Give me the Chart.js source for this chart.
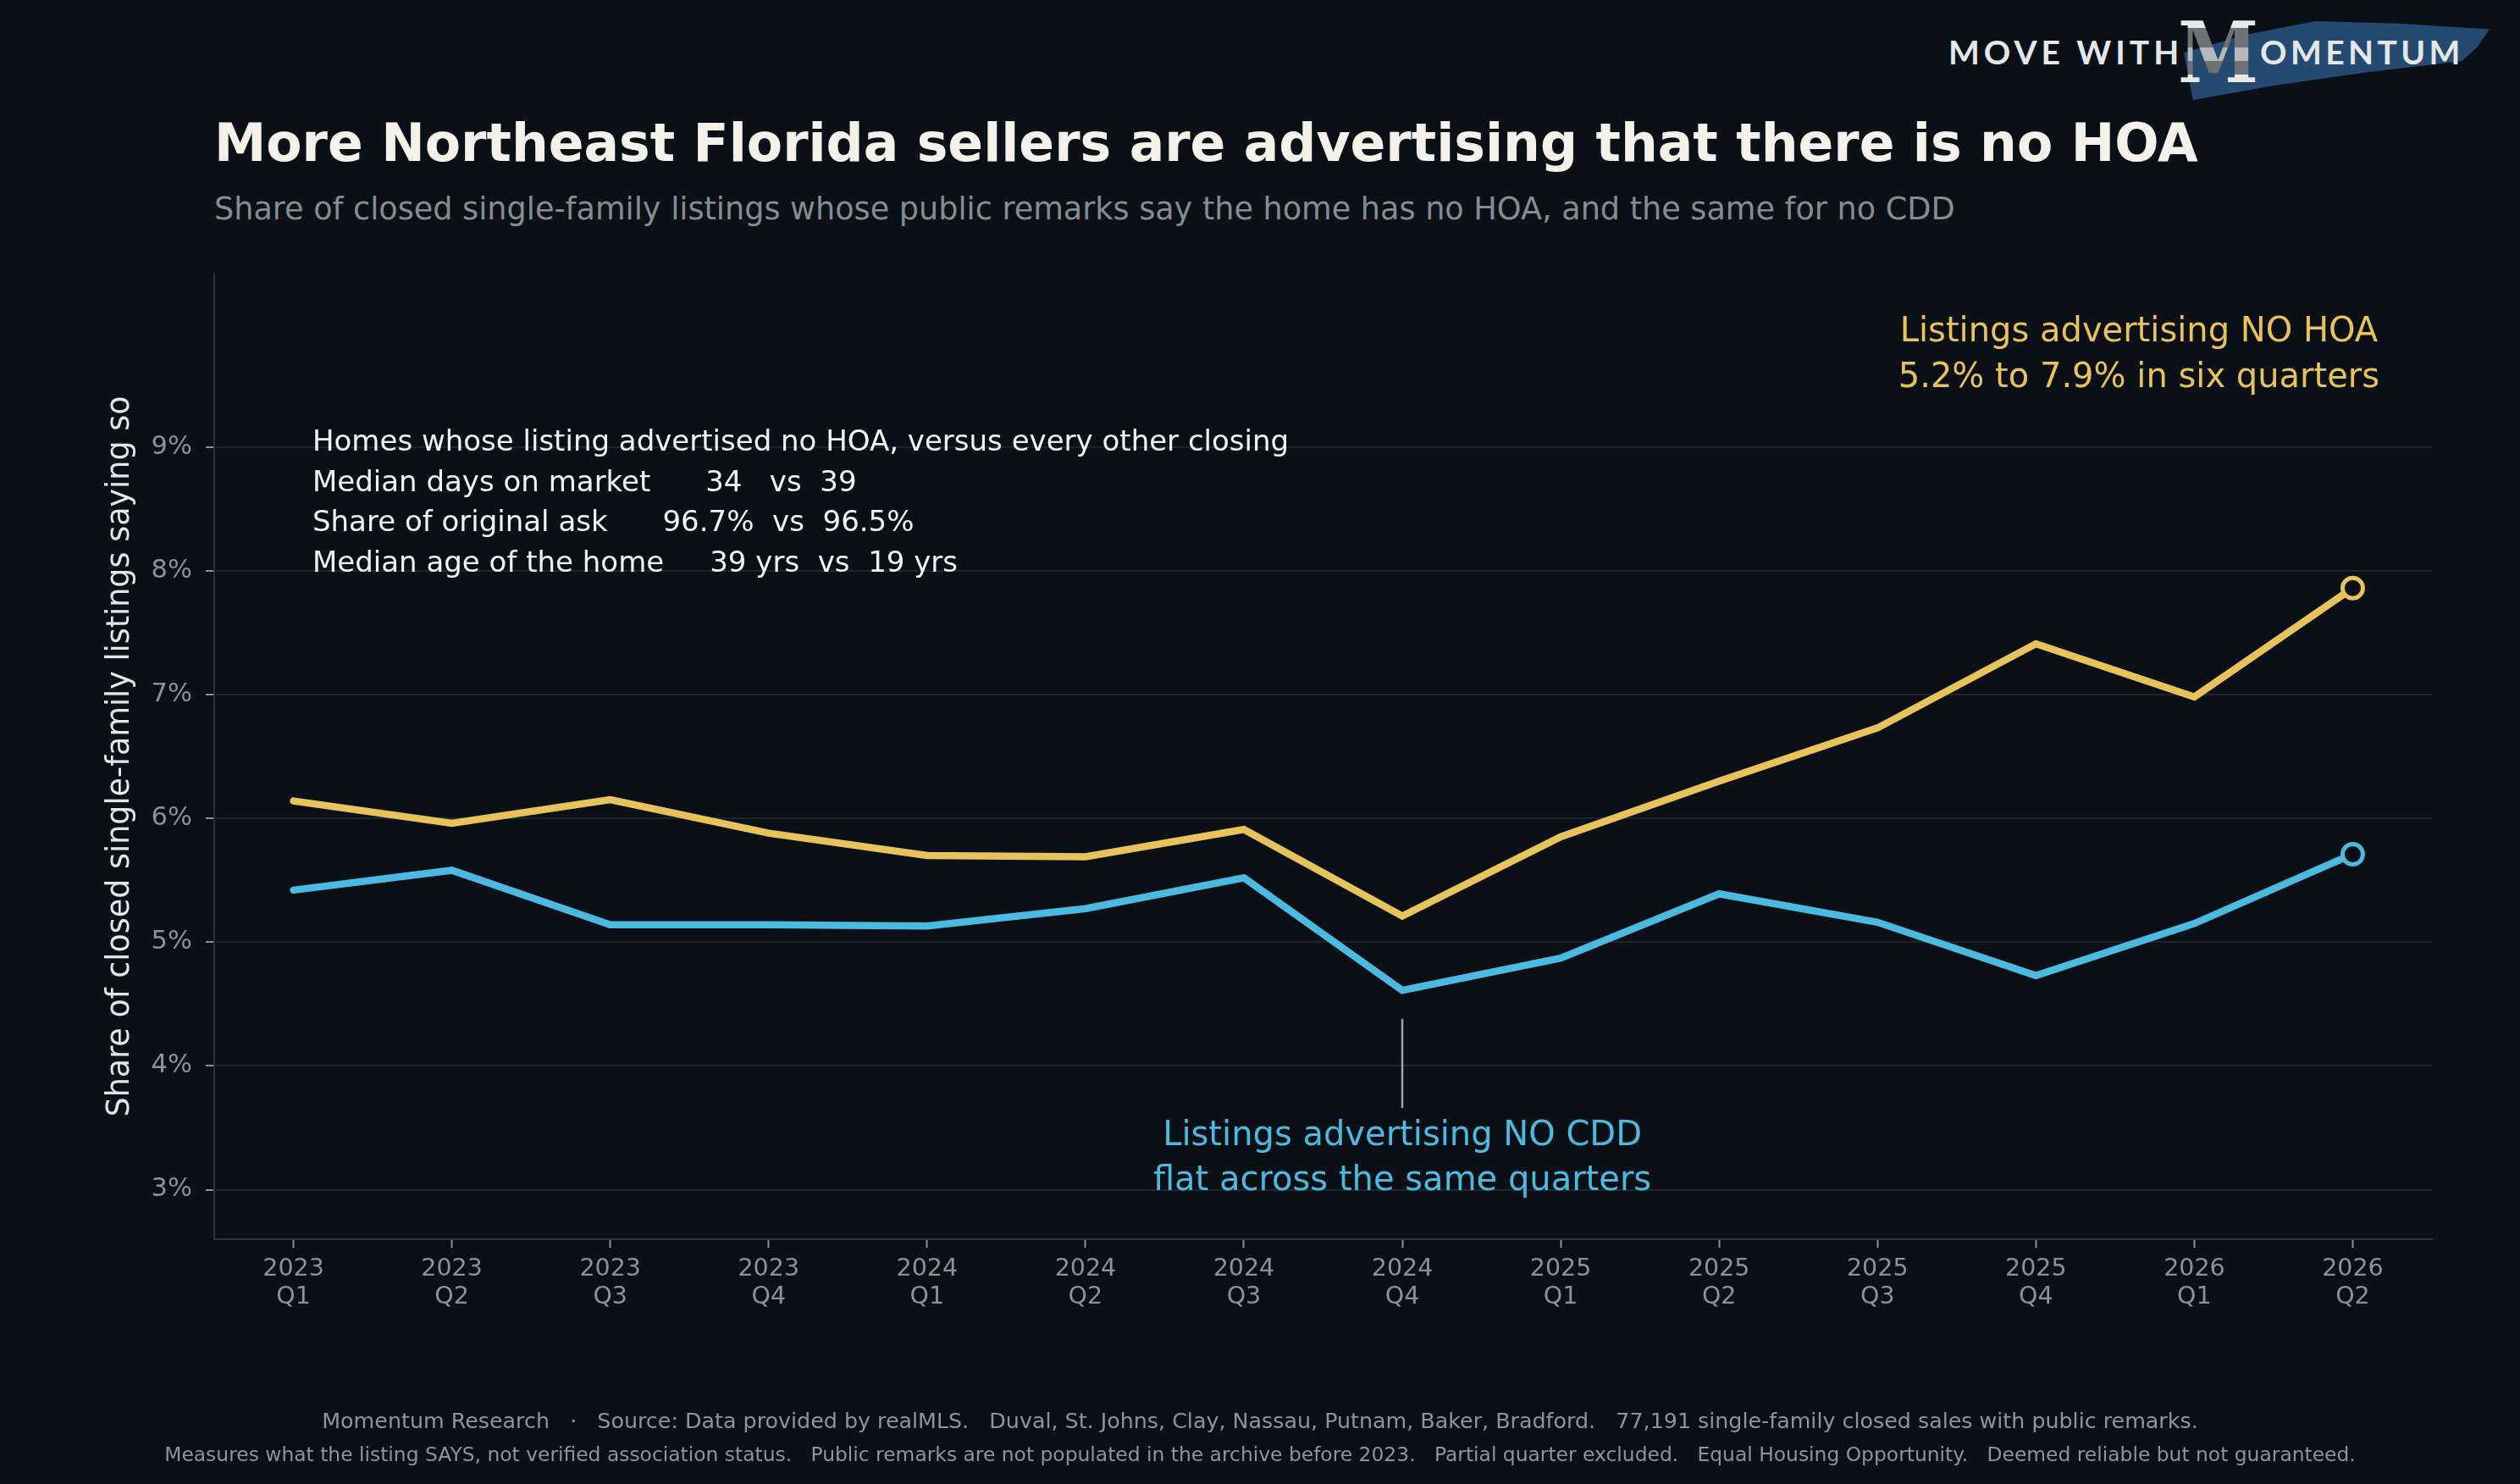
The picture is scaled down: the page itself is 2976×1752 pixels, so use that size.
<!DOCTYPE html>
<html>
<head>
<meta charset="utf-8">
<title>No HOA listings</title>
<script src="https://cdn.jsdelivr.net/npm/chart.js@4.4.1/dist/chart.umd.min.js"></script>
<style>
  html, body { margin: 0; padding: 0; background: #0a1016; }
  body { width: 2976px; height: 1752px; position: relative; overflow: hidden; font-family: "DejaVu Sans", sans-serif; }
  #chart { position: absolute; left: 0; top: 0; }
  .txt { position: absolute; white-space: pre; line-height: 1; }
  #title { left: 253px; top: 139px; font-size: 61.6px; font-weight: bold; color: #f4f1ea; }
  #subtitle { left: 253px; top: 229px; font-size: 36.6px; color: #858c93; }
  .foot { left: 0; width: 2976px; text-align: center; color: #8d949b; }
  #foot1 { top: 1665px; font-size: 25.35px; }
  #foot2 { top: 1706px; font-size: 23.4px; }
  #brush { position: absolute; left: 2579px; top: 22px; width: 361px; height: 96px; background: #244a72;
    clip-path: polygon(0 42%, 20% 20%, 43% 3%, 70% 6%, 100% 13%, 96% 35%, 91% 52%, 60% 66%, 30% 82%, 3% 100%); }
  .logo { position: absolute; font-family: Lato, "DejaVu Sans", sans-serif; font-weight: bold; font-size: 39px;
    letter-spacing: 5px; color: #e4e6e8; line-height: 1; top: 42px; }
  #lg1 { left: 2301px; }
  #lg2 { left: 2669px; letter-spacing: 4.4px; }
  #lgM { position: absolute; left: 2572px; top: 12px; font-family: "DejaVu Serif", serif; font-weight: bold;
    font-size: 100px; line-height: 1; transform: scaleX(0.86); transform-origin: left top;
    background: linear-gradient(to bottom, #e8e8e8 0 21%, #6f7275 21% 44%, #b5b7b9 44% 60%, #6f7275 60% 76%, #e8e8e8 76% 100%);
    -webkit-background-clip: text; background-clip: text; color: transparent; }
</style>
</head>
<body>
<div id="brush"></div>
<span class="logo" id="lg1">MOVE WITH</span>
<span id="lgM">M</span>
<span class="logo" id="lg2">OMENTUM</span>

<div class="txt" id="title">More Northeast Florida sellers are advertising that there is no HOA</div>
<div class="txt" id="subtitle">Share of closed single-family listings whose public remarks say the home has no HOA, and the same for no CDD</div>

<canvas id="chart" width="2976" height="1752"></canvas>

<div class="txt foot" id="foot1">Momentum Research   ·   Source: Data provided by realMLS.   Duval, St. Johns, Clay, Nassau, Putnam, Baker, Bradford.   77,191 single-family closed sales with public remarks.</div>
<div class="txt foot" id="foot2">Measures what the listing SAYS, not verified association status.   Public remarks are not populated in the archive before 2023.   Partial quarter excluded.   Equal Housing Opportunity.   Deemed reliable but not guaranteed.</div>

<script>
// quarters on the x axis
const years = ['2023', '2023', '2023', '2023', '2024', '2024', '2024', '2024', '2025', '2025', '2025', '2025', '2026', '2026'];
const quarters = ['Q1', 'Q2', 'Q3', 'Q4', 'Q1', 'Q2', 'Q3', 'Q4', 'Q1', 'Q2', 'Q3', 'Q4', 'Q1', 'Q2'];

// share of closings (%) whose remarks say so
const noHoa = [6.14, 5.96, 6.15, 5.88, 5.70, 5.69, 5.91, 5.21, 5.85, 6.30, 6.73, 7.41, 6.98, 7.86];
const noCdd = [5.42, 5.58, 5.14, 5.14, 5.13, 5.27, 5.52, 4.61, 4.87, 5.39, 5.16, 4.73, 5.15, 5.71];

const yTicks = [3, 4, 5, 6, 7, 8, 9];

const statLines = [
  'Homes whose listing advertised no HOA, versus every other closing',
  'Median days on market      34   vs  39',
  'Share of original ask      96.7%  vs  96.5%',
  'Median age of the home     39 yrs  vs  19 yrs'
];
const hoaNote = ['Listings advertising NO HOA', '5.2% to 7.9% in six quarters'];
const cddNote = ['Listings advertising NO CDD', 'flat across the same quarters'];

const BG = '#0a1016';
const GOLD = '#e8c35b';
const BLUE = '#4bbae0';
const TICK = '#8a929a';
const GRID = '#1c262f';
const AXIS = '#28323b';

const labels = years.map((yr, i) => [yr, quarters[i]]);
const lastOnly = (arr, r) => arr.map((_, i) => (i === arr.length - 1 ? r : 0));

// text notes drawn inside the plot, anchored to the scales
const notesPlugin = {
  id: 'notes',
  afterDatasetsDraw(chart) {
    const { ctx, scales: { x, y } } = chart;
    ctx.save();

    // stats block
    ctx.font = '34px "DejaVu Sans"';
    ctx.fillStyle = '#f2f2f2';
    ctx.textAlign = 'left';
    ctx.textBaseline = 'alphabetic';
    const sx = x.getPixelForValue(0.12);
    const sy = [8.97, 8.645, 8.32, 7.995];
    statLines.forEach((t, i) => ctx.fillText(t, sx, y.getPixelForValue(sy[i])));

    // NO HOA note
    ctx.font = '40px "DejaVu Sans"';
    ctx.textAlign = 'center';
    ctx.fillStyle = GOLD;
    const hx = x.getPixelForValue(11.65);
    ctx.fillText(hoaNote[0], hx, y.getPixelForValue(9.85));
    ctx.fillText(hoaNote[1], hx, y.getPixelForValue(9.48));

    // NO CDD note with connector
    const cx = x.getPixelForValue(7);
    ctx.strokeStyle = '#a0a4a8';
    ctx.lineWidth = 2.5;
    ctx.beginPath();
    ctx.moveTo(cx, y.getPixelForValue(4.38));
    ctx.lineTo(cx, y.getPixelForValue(3.66));
    ctx.stroke();
    ctx.fillStyle = BLUE;
    ctx.fillText(cddNote[0], cx, y.getPixelForValue(3.36));
    ctx.fillText(cddNote[1], cx, y.getPixelForValue(3.0));

    ctx.restore();
  }
};

new Chart(document.getElementById('chart'), {
  type: 'line',
  data: {
    labels: labels,
    datasets: [
      {
        label: 'No HOA',
        data: noHoa,
        borderColor: GOLD,
        borderWidth: 8.5,
        borderCapStyle: 'round',
        pointRadius: lastOnly(noHoa, 12),
        pointBorderWidth: 5,
        pointBorderColor: GOLD,
        pointBackgroundColor: BG,
        tension: 0,
        clip: false
      },
      {
        label: 'No CDD',
        data: noCdd,
        borderColor: BLUE,
        borderWidth: 8.5,
        borderCapStyle: 'round',
        pointRadius: lastOnly(noCdd, 12),
        pointBorderWidth: 5,
        pointBorderColor: BLUE,
        pointBackgroundColor: BG,
        tension: 0,
        clip: false
      }
    ]
  },
  options: {
    responsive: false,
    animation: false,
    devicePixelRatio: 1,
    layout: { padding: { left: 0, right: 104, top: 323, bottom: 169 } },
    plugins: { legend: { display: false }, tooltip: { enabled: false } },
    scales: {
      x: {
        offset: true,
        afterFit: (s) => { s.height = 120; },
        grid: { drawOnChartArea: false, drawTicks: true, tickLength: 10, tickColor: TICK, tickWidth: 2 },
        border: { color: AXIS, width: 2 },
        ticks: {
          color: TICK,
          padding: 9,
          maxRotation: 0,
          autoSkip: false,
          font: { family: 'DejaVu Sans', size: 28.5, lineHeight: 1.17 }
        }
      },
      y: {
        min: 2.6,
        max: 10.4,
        afterFit: (s) => { s.width = 253; },
        afterBuildTicks: (s) => { s.ticks = yTicks.map(v => ({ value: v })); },
        grid: { color: GRID, lineWidth: 2, tickLength: 10, tickColor: TICK, tickWidth: 2 },
        border: { color: AXIS, width: 2 },
        ticks: {
          color: TICK,
          padding: 16,
          font: { family: 'DejaVu Sans', size: 30.5 },
          callback: (v) => v + '%'
        },
        title: {
          display: true,
          text: 'Share of closed single-family listings saying so',
          color: '#e5e5e5',
          padding: { top: 121, bottom: 0 },
          font: { family: 'DejaVu Sans', size: 36.5 }
        }
      }
    }
  },
  plugins: [notesPlugin]
});
</script>
</body>
</html>
